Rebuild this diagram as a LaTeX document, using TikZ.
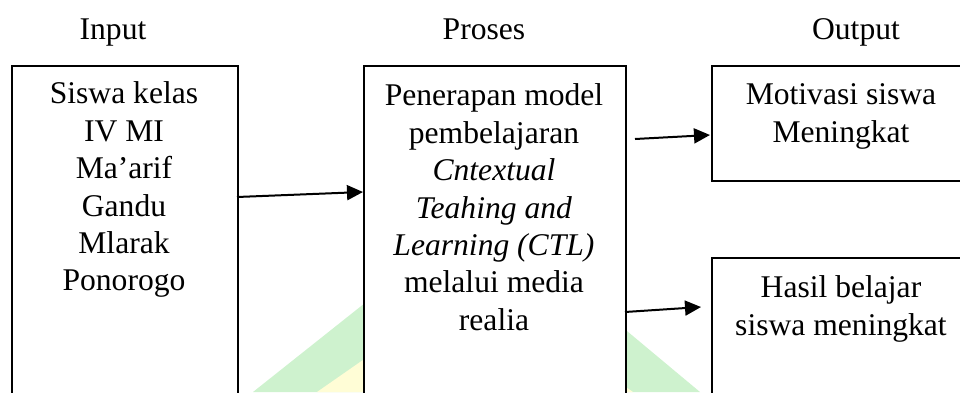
\documentclass[tikz,border=0pt]{standalone}
\usepackage{fontspec}
\setmainfont{Liberation Serif}
\usetikzlibrary{arrows.meta}
\definecolor{wmgreen}{RGB}{206,242,206}
\definecolor{wmyellow}{RGB}{255,253,214}
\begin{document}
\begin{tikzpicture}[x=0.5pt,y=-0.5pt,
  box/.style={draw=black, line width=1pt, fill=white, rectangle, inner sep=0pt, anchor=north west},
  txt/.style={font=\fontsize{15.8}{18.7}\selectfont, align=center, inner sep=0pt, anchor=north},
  head/.style={font=\fontsize{15.8}{18.7}\selectfont, inner sep=0pt, anchor=base},
  arr/.style={line width=1pt, -{Triangle[length=8pt,width=7.5pt]}}]
\useasboundingbox (0,0) rectangle (960,392);
\clip (0,0) rectangle (960,392);
% watermark
\fill[wmgreen] (253,392) -- (482,210) -- (700,392) -- cycle;
\fill[wmyellow] (317,392) -- (475,282) -- (633,392) -- cycle;
% headings
\node[head] (hin) at (113,39.3) {Input};
\node[head] (hpr) at (484,39.3) {Proses};
\node[head] (hout) at (856,39.3) {Output};
% boxes
\node[box, minimum width=113pt, minimum height=180pt] (in) at (11,65) {};
\node[box, minimum width=131pt, minimum height=180pt] (pr) at (363,65) {};
\node[box, minimum width=132pt, minimum height=57.5pt] (mo) at (711,65) {};
\node[box, minimum width=132pt, minimum height=90pt] (ha) at (711,257) {};
% texts
\node[txt] (intx) at (124,81.5) {Siswa kelas\\IV MI\\Ma’arif\\Gandu\\Mlarak\\Ponorogo};
\node[txt] (prtx) at (494,83.5) {Penerapan model\\pembelajaran\\\textit{Cntextual}\\\textit{Teahing and}\\\textit{Learning (CTL)}\\melalui media\\realia};
\node[txt] (motx) at (841,83.5) {Motivasi siswa\\Meningkat};
\node[txt] (hatx) at (841,275.5) {Hasil belajar\\siswa meningkat};
% arrows
\coordinate (a1s) at (237,197); \coordinate (a1e) at (363,192);
\coordinate (a2s) at (635,139); \coordinate (a2e) at (710,135);
\coordinate (a3s) at (625,312); \coordinate (a3e) at (701,307);
\draw[arr] (a1s) -- (a1e);
\draw[arr] (a2s) -- (a2e);
\draw[arr] (a3s) -- (a3e);
\end{tikzpicture}
\end{document}
